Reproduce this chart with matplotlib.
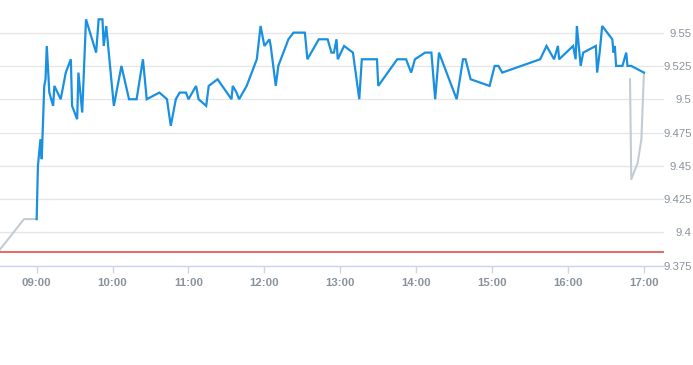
import matplotlib
matplotlib.use("Agg")
import matplotlib.pyplot as plt

# intraday price (blue), pre/post auction (grey), reference line (red)
price_times = [
    "09:00", "09:01", "09:03", "09:04", "09:06", "09:07", "09:08", "09:10", "09:13", "09:14",
    "09:19", "09:23", "09:27", "09:28", "09:32", "09:33", "09:36", "09:39", "09:47", "09:49",
    "09:52", "09:53", "09:55", "10:01", "10:07", "10:13", "10:19", "10:24", "10:27", "10:37",
    "10:43", "10:46", "10:50", "10:53", "10:58", "11:00", "11:06", "11:08", "11:14", "11:16",
    "11:23", "11:34", "11:35", "11:38", "11:40", "11:46", "11:54", "11:57", "12:00", "12:04",
    "12:05", "12:09", "12:11", "12:19", "12:23", "12:32", "12:34", "12:43", "12:50", "12:53",
    "12:55", "12:57", "12:58", "13:03", "13:10", "13:15", "13:17", "13:29", "13:30", "13:45",
    "13:52", "13:56", "13:59", "14:07", "14:12", "14:15", "14:18", "14:32", "14:37", "14:39",
    "14:43", "14:58", "15:02", "15:05", "15:08", "15:38", "15:43", "15:49", "15:52", "15:53",
    "16:04", "16:06", "16:07", "16:10", "16:12", "16:22", "16:23", "16:25", "16:27", "16:35",
    "16:36", "16:37", "16:38", "16:43", "16:46", "16:47", "16:50", "17:00",
]
price_values = [
    9.41, 9.45, 9.47, 9.455, 9.51, 9.515, 9.54, 9.505, 9.495, 9.51,
    9.50, 9.52, 9.53, 9.495, 9.485, 9.52, 9.49, 9.56, 9.535, 9.56,
    9.56, 9.54, 9.555, 9.495, 9.525, 9.50, 9.50, 9.53, 9.50, 9.505,
    9.50, 9.48, 9.50, 9.505, 9.505, 9.50, 9.51, 9.50, 9.495, 9.51,
    9.515, 9.50, 9.51, 9.505, 9.50, 9.51, 9.53, 9.555, 9.54, 9.545,
    9.54, 9.51, 9.525, 9.545, 9.55, 9.55, 9.53, 9.545, 9.545, 9.535,
    9.535, 9.545, 9.53, 9.54, 9.535, 9.50, 9.53, 9.53, 9.51, 9.53,
    9.53, 9.52, 9.53, 9.535, 9.535, 9.50, 9.535, 9.50, 9.53, 9.53,
    9.515, 9.51, 9.525, 9.525, 9.52, 9.53, 9.54, 9.53, 9.54, 9.53,
    9.54, 9.53, 9.555, 9.525, 9.535, 9.54, 9.52, 9.535, 9.555, 9.545,
    9.535, 9.54, 9.525, 9.525, 9.535, 9.525, 9.525, 9.52,
]

pre_times = ["08:30", "08:50", "09:00"]
pre_values = [9.386, 9.41, 9.41]

post_times = ["16:49", "16:50", "16:55", "16:58", "17:00"]
post_values = [9.515, 9.44, 9.452, 9.47, 9.52]

prev_close = 9.385

hour_ticks = ["09:00", "10:00", "11:00", "12:00", "13:00", "14:00", "15:00", "16:00", "17:00"]
price_ticks = [9.375, 9.4, 9.425, 9.45, 9.475, 9.5, 9.525, 9.55]
price_tick_labels = ["9.375", "9.4", "9.425", "9.45", "9.475", "9.5", "9.525", "9.55"]


def to_hours(t):
    h, m = t.split(":")
    return int(h) + int(m) / 60


label_color = "#8a939c"
axis_color = "#ccd6eb"
fonts = ["Liberation Sans", "DejaVu Sans"]

fig = plt.figure(figsize=(6.93, 3.65), dpi=100)
ax = fig.add_axes([0.0, 0.272, 0.958, 0.728])

ax.axhline(prev_close, color="#e0403a", linewidth=1.1, zorder=2)
ax.plot([to_hours(t) for t in pre_times], pre_values, color="#c3ccd3", linewidth=1.5, zorder=3)
ax.plot([to_hours(t) for t in post_times], post_values, color="#c3ccd3", linewidth=1.5, zorder=3)
ax.plot([to_hours(t) for t in price_times], price_values, color="#1a90e0", linewidth=1.6,
        zorder=4, solid_joinstyle="miter")

ax.set_xlim(8.517, 17.263)
ax.set_ylim(9.375, 9.5745)

ax.set_xticks([to_hours(t) for t in hour_ticks])
ax.set_xticklabels(hour_ticks, fontsize=8.2, fontweight="bold", color=label_color, family=fonts)
ax.set_yticks(price_ticks)
ax.set_yticklabels(price_tick_labels, fontsize=8.2, color=label_color, family=fonts, ha="right")
ax.yaxis.tick_right()
ax.tick_params(axis="x", length=5, width=1, color=axis_color, pad=4)
ax.tick_params(axis="y", length=0, pad=20)

ax.grid(axis="y", color="#e6e6e6", linewidth=1)
ax.set_axisbelow(True)
for side in ["top", "left", "right"]:
    ax.spines[side].set_visible(False)
ax.spines["bottom"].set_color(axis_color)
ax.spines["bottom"].set_linewidth(1)

fig.savefig("out.png", dpi=100)
